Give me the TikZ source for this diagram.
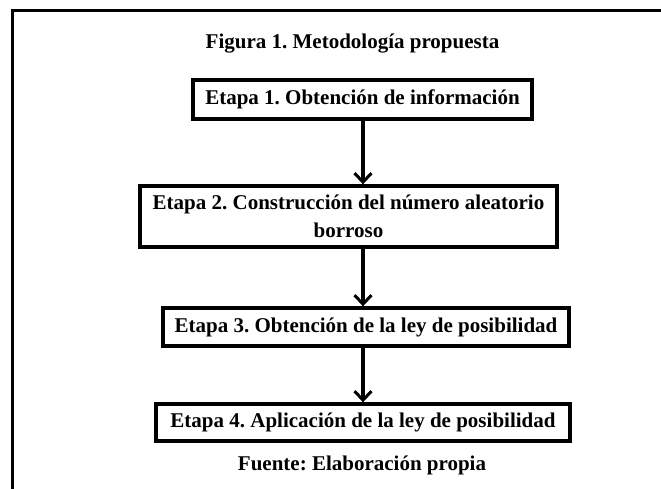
\documentclass[tikz,border=0pt]{standalone}
\usepackage{fontspec}
\setmainfont{Liberation Serif}
\usetikzlibrary{arrows.meta}
\frenchspacing
\begin{document}
\begin{tikzpicture}[x=1pt,y=-1pt,
  stepbox/.style={draw,line width=3.4pt,inner sep=0pt,align=center,font=\fontsize{21}{28}\selectfont\bfseries},
  lbl/.style={inner sep=0pt,font=\fontsize{21}{24}\selectfont\bfseries},
  conn/.style={line width=3.2pt,-{Straight Barb[length=9pt,width=17pt,line width=3pt]}}]
\useasboundingbox (0,0) rectangle (661,489);
\draw[line width=3pt] (12.5,489) -- (12.5,10.5) -- (661,10.5);
\coordinate (ax) at (363,0);
\node[lbl] (title) at (352.5,44) {Figura 1. Metodología propuesta};
\node[stepbox,minimum width=339pt,minimum height=39pt] (e1) at (362.5,99.5) {Etapa 1. Obtención de información};
\node[stepbox,minimum width=417pt,minimum height=61pt] (e2) at (348.5,216.5) {Etapa 2. Construcción del número aleatorio\\borroso};
\node[stepbox,minimum width=406pt,minimum height=38pt] (e3) at (366,327) {Etapa 3. Obtención de la ley de posibilidad};
\node[stepbox,minimum width=414pt,minimum height=37pt] (e4) at (363,422.5) {Etapa 4. Aplicación de la ley de posibilidad};
\node[lbl] (src) at (362,465) {Fuente: Elaboración propia};
\draw[conn] (e1.south -| ax) -- (e2.north -| ax);
\draw[conn] (e2.south -| ax) -- (e3.north -| ax);
\draw[conn] (e3.south -| ax) -- (e4.north -| ax);
\end{tikzpicture}
\end{document}
